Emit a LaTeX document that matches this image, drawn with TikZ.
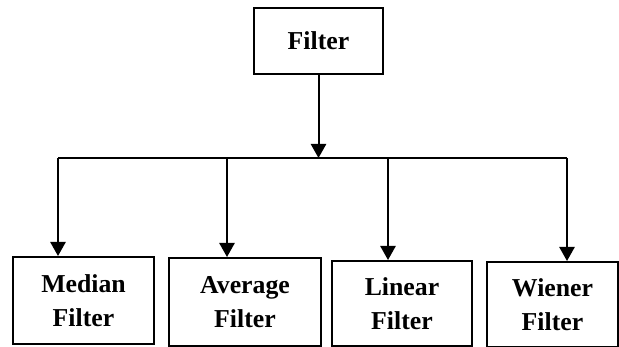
\documentclass[tikz,border=0pt]{standalone}
\usepackage{fontspec}
\setmainfont{Liberation Serif}
\usetikzlibrary{arrows.meta}
\tikzstyle{box}=[draw,line width=1.7pt,align=center,inner sep=0pt,font=\fontsize{22}{29}\selectfont\bfseries]
\tikzstyle{arrow}=[line width=1.7pt,-{Triangle[length=12pt,width=13pt]}]

\begin{document}
\begin{tikzpicture}[x=0.03cm,y=-0.03cm]
	\useasboundingbox (0,0) rectangle (619,347);
	\node [box,minimum width=129*0.03cm,minimum height=66*0.03cm] (filter) at (318.5,41) {Filter};
	\node [box,minimum width=141*0.03cm,minimum height=87*0.03cm] (median) at (83.5,300.5) {Median\\Filter};
	\node [box,minimum width=152*0.03cm,minimum height=88*0.03cm] (average) at (245,302) {Average\\Filter};
	\node [box,minimum width=140*0.03cm,minimum height=85*0.03cm] (linear) at (402,303.5) {Linear\\Filter};
	\node [box,minimum width=131*0.03cm,minimum height=85*0.03cm] (wiener) at (552.5,304.5) {Wiener\\Filter};
	% branch line
	\coordinate (bus) at (318.5,158);
	\coordinate (b1) at (58,158);
	\coordinate (b2) at (227,158);
	\coordinate (b3) at (388,158);
	\coordinate (b4) at (567,158);
	\draw [arrow] (filter) -- (bus);
	\draw [line width=1.7pt] (b1) -- (b4);
	\draw [arrow] (b1) -- (b1 |- median.north);
	\draw [arrow] (b2) -- (b2 |- average.north);
	\draw [arrow] (b3) -- (b3 |- linear.north);
	\draw [arrow] (b4) -- (b4 |- wiener.north);
\end{tikzpicture}
\end{document}
